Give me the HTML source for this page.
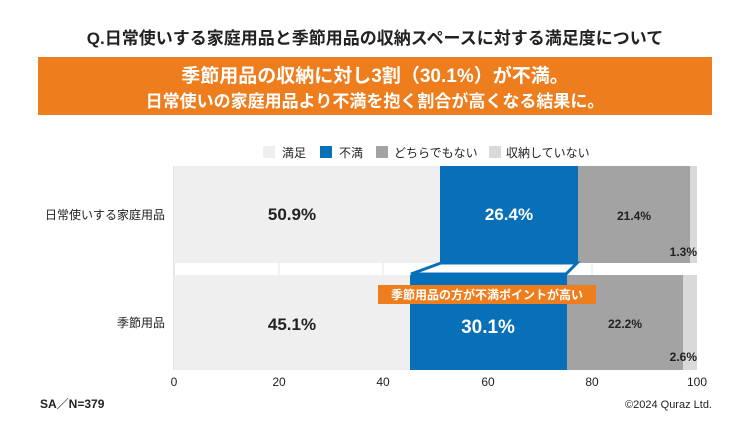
<!DOCTYPE html>
<html><head><meta charset="utf-8"><style>
body{margin:0;width:750px;height:422px;background:#fff;overflow:hidden;font-family:"Liberation Sans","Noto Sans CJK JP",sans-serif;}
svg text{font-family:"Liberation Sans","Noto Sans CJK JP",sans-serif;}
</style></head><body>
<svg width="750" height="422" viewBox="0 0 750 422">
<text x="375" y="44" text-anchor="middle" font-size="17" font-weight="bold" fill="#222">Q.日常使いする家庭用品と季節用品の収納スペースに対する満足度について</text>
<rect x="38" y="57" width="674" height="58" fill="#ee7d1e"/>
<text x="375" y="82" text-anchor="middle" font-size="19" font-weight="bold" fill="#fff">季節用品の収納に対し3割（30.1%）が不満。</text>
<text x="375" y="107" text-anchor="middle" font-size="17" font-weight="bold" fill="#fff">日常使いの家庭用品より不満を抱く割合が高くなる結果に。</text>
<g font-size="12" fill="#222">
<rect x="263" y="146" width="12" height="12" fill="#efefef"/><text x="282" y="157">満足</text>
<rect x="320" y="146" width="12" height="12" fill="#0870b8"/><text x="339" y="157">不満</text>
<rect x="376" y="146" width="12" height="12" fill="#a3a3a3"/><text x="394" y="157">どちらでもない</text>
<rect x="489" y="146" width="12" height="12" fill="#d9d9d9"/><text x="506" y="157">収納していない</text>
</g>
<g stroke="#e6e6e6" stroke-width="1">
<line x1="279" y1="262" x2="279" y2="276"/><line x1="383" y1="262" x2="383" y2="276"/><line x1="488" y1="262" x2="488" y2="276"/><line x1="592" y1="262" x2="592" y2="276"/>
</g>
<line x1="174" y1="166" x2="174" y2="370" stroke="#ccc"/>
<rect x="174" y="166" width="266" height="97" fill="#efefef"/>
<rect x="440" y="166" width="138" height="97" fill="#0870b8"/>
<rect x="578" y="166" width="112" height="97" fill="#a3a3a3"/>
<rect x="690" y="166" width="7" height="97" fill="#d9d9d9"/>
<rect x="174" y="275" width="236" height="95" fill="#efefef"/>
<rect x="410" y="275" width="157" height="95" fill="#0870b8"/>
<rect x="567" y="275" width="116" height="95" fill="#a3a3a3"/>
<rect x="683" y="275" width="14" height="95" fill="#d9d9d9"/>
<polygon points="441,263 577,263 566,274 411,274" fill="#fff" stroke="#0870b8" stroke-width="3"/>
<rect x="378" y="285" width="218" height="19" fill="#ee7d1e"/>
<text x="487" y="299" text-anchor="middle" font-size="12" font-weight="bold" fill="#fff">季節用品の方が不満ポイントが高い</text>
<text x="165" y="219" text-anchor="end" font-size="12" fill="#222">日常使いする家庭用品</text>
<text x="165" y="327" text-anchor="end" font-size="12" fill="#222">季節用品</text>
<g font-weight="bold" fill="#222">
<text x="292" y="220" text-anchor="middle" font-size="17">50.9%</text>
<text x="509" y="220" text-anchor="middle" font-size="17" fill="#fff">26.4%</text>
<text x="634" y="220" text-anchor="middle" font-size="12">21.4%</text>
<text x="697" y="256" text-anchor="end" font-size="12">1.3%</text>
<text x="292" y="330" text-anchor="middle" font-size="17">45.1%</text>
<text x="488" y="333" text-anchor="middle" font-size="19" fill="#fff">30.1%</text>
<text x="625" y="328" text-anchor="middle" font-size="12">22.2%</text>
<text x="697" y="361" text-anchor="end" font-size="12">2.6%</text>
</g>
<g font-size="12" fill="#222" text-anchor="middle">
<text x="174" y="386">0</text><text x="279" y="386">20</text><text x="383" y="386">40</text><text x="488" y="386">60</text><text x="592" y="386">80</text><text x="697" y="386">100</text>
</g>
<text x="40" y="408" font-size="12" font-weight="bold" fill="#222">SA／N=379</text>
<text x="712" y="408" text-anchor="end" font-size="11" fill="#222">©2024 Quraz Ltd.</text>
</svg>
</body></html>
